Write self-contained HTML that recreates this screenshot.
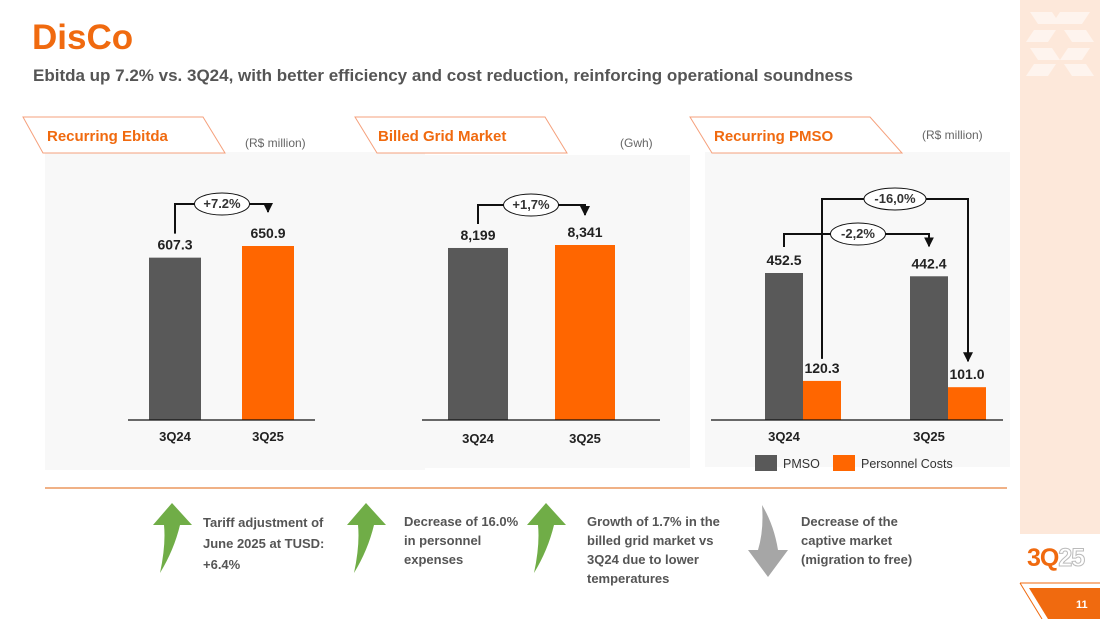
<!DOCTYPE html>
<html><head><meta charset="utf-8"><style>
body{margin:0;width:1100px;height:619px;overflow:hidden;background:#fff;font-family:"Liberation Sans",sans-serif;position:relative}
.a{position:absolute}
.t{font-weight:bold;color:#555;font-size:13px;line-height:19px;font-family:"Liberation Sans Narrow","Liberation Sans",sans-serif}
</style></head><body>
<div class="a" style="left:1020px;top:0;width:80px;height:534px;background:#fde8da"></div>
<svg class="a" style="left:1020px;top:0" width="80" height="90">
<g fill="#fff" opacity="0.55"><polygon points="10,12 32,12 40,24 18,24"/><polygon points="40,12 70,12 62,24 32,24"/><polygon points="14,30 36,30 28,42 6,42"/><polygon points="44,30 66,30 74,42 52,42"/><polygon points="10,48 32,48 40,60 18,60"/><polygon points="48,48 70,48 62,60 40,60"/><polygon points="14,64 36,64 28,76 6,76"/><polygon points="44,64 66,64 74,76 52,76"/></g></svg>
<div class="a" style="left:32px;top:18px;font-size:35px;font-weight:bold;color:#f06a0f">DisCo</div>
<div class="a" style="left:33px;top:66px;font-size:17px;font-weight:bold;color:#555">Ebitda up 7.2% vs. 3Q24, with better efficiency and cost reduction, reinforcing operational soundness</div>

<div class="a" style="left:45px;top:152px;width:380px;height:318px;background:#f8f8f8"></div>
<div class="a" style="left:425px;top:155px;width:265px;height:313px;background:#f8f8f8"></div>
<div class="a" style="left:705px;top:152px;width:305px;height:315px;background:#f8f8f8"></div>

<svg class="a" style="left:0;top:0" width="1100" height="619" id="svg">
<g fill="none" stroke="#f5a07c" stroke-width="1">
<polygon points="23,117 203,117 225,153 43,153" fill="#fff"/>
<polygon points="355,117 545,117 567,153 377,153" fill="#fff"/>
<polygon points="690,117 870,117 902,153 712,153" fill="#fff"/>
</g>
<g font-weight="bold" font-size="15" fill="#f06a0f">
<text x="47" y="141">Recurring Ebitda</text>
<text x="378" y="141">Billed Grid Market</text>
<text x="714" y="141">Recurring PMSO</text>
</g>
<g font-size="12" fill="#666">
<text x="245" y="147">(R$ million)</text>
<text x="620" y="147">(Gwh)</text>
<text x="922" y="139">(R$ million)</text>
</g>
<line x1="45" y1="488" x2="1007" y2="488" stroke="#e8823f" stroke-width="1.2"/>
<defs><marker id="ar" markerWidth="10" markerHeight="10" refX="5" refY="9" orient="0" markerUnits="userSpaceOnUse"><polygon points="0,0 10,0 5,10" fill="#111"/></marker></defs>
<g id="g"></g>
</svg>

<svg class="a" style="left:0;top:495px" width="1000" height="90">
<g fill="#70ad47">
<path d="M172,8 L192,30 L180,30 Q174,55 160,78 Q166,50 164,30 L153,30 Z"/>
<path d="M366,8 L386,30 L374,30 Q368,55 354,78 Q360,50 358,30 L347,30 Z"/>
<path d="M546,8 L566,30 L554,30 Q548,55 534,78 Q540,50 538,30 L527,30 Z"/>
</g>
<path fill="#a6a6a6" d="M768,82 L788,55 L778,55 Q774,30 762,10 Q764,35 758,55 L748,55 Z"/>
</svg>
<div class="a t" style="left:203px;top:512px;line-height:21px">Tariff adjustment of<br>June 2025 at TUSD:<br>+6.4%</div>
<div class="a t" style="left:404px;top:512px">Decrease of 16.0%<br>in personnel<br>expenses</div>
<div class="a t" style="left:587px;top:512px">Growth of 1.7% in the<br>billed grid market vs<br>3Q24 due to lower<br>temperatures</div>
<div class="a t" style="left:801px;top:512px">Decrease of the<br>captive market<br>(migration to free)</div>

<div class="a" style="left:1027px;top:544px;font-size:25px;font-weight:bold;color:#f06a0f;letter-spacing:-1px">3Q<span style="color:#fff;-webkit-text-stroke:1px #bbb">25</span></div>
<svg class="a" style="left:1015px;top:580px" width="85" height="39">
<polyline points="5,3 85,3" stroke="#f06a0f" fill="none" stroke-width="1"/>
<line x1="5" y1="3" x2="27" y2="39" stroke="#f06a0f"/>
<polygon points="14,8 85,8 85,39 33,39" fill="#f06a0f"/>
<text x="61" y="28" font-size="11" font-weight="bold" fill="#fff">11</text>
</svg>

<script>
const ebitdaCats=['3Q24','3Q25'];
const ebitdaVals=[607.3,650.9];
const ebitdaLabels=['607.3','650.9'];
const gridCats=['3Q24','3Q25'];
const gridVals=[8199,8341];
const gridLabels=['8,199','8,341'];
const pmsoCats=['3Q24','3Q25'];
const pmsoVals=[452.5,442.4];
const personnelVals=[120.3,101.0];
const pmsoLabels=['452.5','442.4'];
const personnelLabels=['120.3','101.0'];
const ebitdaChange='+7.2%', gridChange='+1,7%', pmsoChange='-2,2%', personnelChange='-16,0%';

const NS='http://www.w3.org/2000/svg', G=document.getElementById('g');
function mk(tag,attrs,txt){const e=document.createElementNS(NS,tag);for(const k in attrs)e.setAttribute(k,attrs[k]);if(txt!==undefined)e.textContent=txt;G.appendChild(e);return e;}
const BASE=420;
function bar(x,w,v,scale,color,name){const h=v*scale;const r=mk('rect',{x:x,y:BASE-h,width:w,height:h,fill:color});


return BASE-h;}
function lbl(x,y,t,name,size){const e=mk('text',{x:x,y:y,'text-anchor':'middle','font-size':size||14,'font-weight':'bold',fill:'#222'},t);

}
function bracket(x1,y1,x2,y2,top,cx,t,name){const p=mk('path',{d:`M${x1},${y1} V${top} H${x2} V${y2}`,fill:'none',stroke:'#111','stroke-width':2,'marker-end':'url(#ar)'});


const w=t.length*7+20;
const el=mk('ellipse',{cx:cx,cy:top,rx:w/2,ry:11,fill:'#fff',stroke:'#111','stroke-width':1});


const tx=mk('text',{x:cx,y:top+4,'text-anchor':'middle','font-size':13,'font-weight':'bold',fill:'#333'},t);

}
function axis(x1,x2,name){const l=mk('line',{x1:x1,y1:BASE,x2:x2,y2:BASE,stroke:'#111','stroke-width':1.2});

}

// Ebitda
const s1=174/650.9, x1=[149,242], t1=[];
ebitdaVals.forEach((v,i)=>{t1[i]=bar(x1[i],52,v,s1,i?'#ff6600':'#595959','ebitda-bar-'+ebitdaCats[i]);lbl(x1[i]+26,t1[i]-8,ebitdaLabels[i],'ebitda-value-'+ebitdaCats[i]);lbl(x1[i]+26,441,ebitdaCats[i],'ebitda-xlabel-'+ebitdaCats[i],13);});
axis(128,315,'ebitda-axis');
bracket(175,t1[0]-24,268,t1[1]-34,Math.min(t1[0],t1[1])-42,222,ebitdaChange,'ebitda-change');

// Grid
const s2=175/8341, x2=[448,555], t2=[];
gridVals.forEach((v,i)=>{t2[i]=bar(x2[i],60,v,s2,i?'#ff6600':'#595959','grid-bar-'+gridCats[i]);lbl(x2[i]+30,t2[i]-8,gridLabels[i],'grid-value-'+gridCats[i]);lbl(x2[i]+30,443,gridCats[i],'grid-xlabel-'+gridCats[i],13);});
axis(422,660,'grid-axis');
bracket(478,t2[0]-24,585,t2[1]-30,Math.min(t2[0],t2[1])-40,531,gridChange,'grid-change');

// PMSO
const s3=147/452.5, x3=[765,910], tp=[], tc=[];
pmsoVals.forEach((v,i)=>{tp[i]=bar(x3[i],38,v,s3,'#595959','pmso-bar-'+pmsoCats[i]);lbl(x3[i]+19,tp[i]-8,pmsoLabels[i],'pmso-value-'+pmsoCats[i]);
tc[i]=bar(x3[i]+38,38,personnelVals[i],s3,'#ff6600','personnel-bar-'+pmsoCats[i]);lbl(x3[i]+57,tc[i]-8,personnelLabels[i],'personnel-value-'+pmsoCats[i]);
lbl(x3[i]+19,441,pmsoCats[i],'pmso-xlabel-'+pmsoCats[i],13);});
axis(711,1003,'pmso-axis');
bracket(784,tp[0]-26,929,tp[1]-30,Math.min(tp[0],tp[1])-39,858,pmsoChange,'pmso-change');
bracket(822,tc[0]-22,968,tc[1]-26,Math.min(tp[0],tp[1])-74,895,personnelChange,'personnel-change');
[['#595959','PMSO',755],['#ff6600','Personnel Costs',833]].forEach(([c,t,x])=>{const r=mk('rect',{x:x,y:455,width:22,height:16,fill:c});


const e=mk('text',{x:x+28,y:468,'font-size':12.5,fill:'#333'},t);

});
</script>
</body></html>
